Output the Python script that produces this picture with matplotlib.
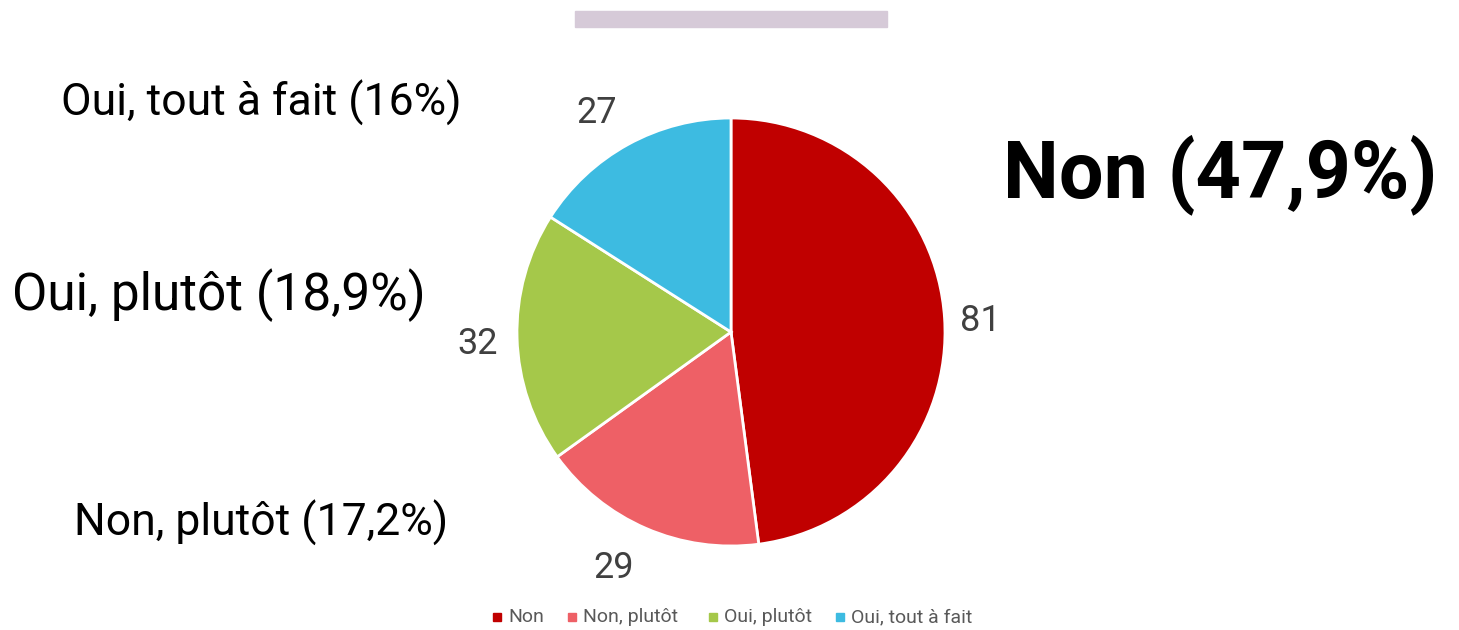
import matplotlib.pyplot as plt
from matplotlib.patches import Rectangle

# data
categories = ["Non", "Non, plutôt", "Oui, plutôt", "Oui, tout à fait"]
counts = [81, 29, 32, 27]
colors = ["#C00000", "#EE6066", "#A5C84A", "#3DBBE1"]

total = sum(counts)
pcts = [c / total * 100 for c in counts]


def fmt_pct(p):
    s = f"{p:.1f}".replace(".", ",")
    if s.endswith(",0"):
        s = s[:-2]
    return s + "%"


plt.rcParams['font.family'] = ['Roboto', 'DejaVu Sans']

W, H = 1459, 630
fig = plt.figure(figsize=(W / 100, H / 100), dpi=100)


def px(x, y):
    # pixel coords (top-left origin) -> figure fraction
    return x / W, 1 - y / H


# pie axes: center (731, 332), radius 214 px
cx, cy, r = 731, 332, 214
ax = fig.add_axes([(cx - r) / W, (H - cy - r) / H, 2 * r / W, 2 * r / H])
wedges, _ = ax.pie(counts, colors=colors, startangle=90, counterclock=False,
                   wedgeprops=dict(edgecolor="white", linewidth=2))
ax.set_xlim(-1, 1)
ax.set_ylim(-1, 1)
ax.set_aspect("equal")

# decorative bar at top
fig.patches.append(Rectangle(px(575, 27), (887 - 575) / W, 16 / H,
                             transform=fig.transFigure, color="#D6CAD8", zorder=0))

# value labels
value_pos = [(980, 321), (614, 568), (478, 344), (597, 113)]
for (x, y), v in zip(value_pos, counts):
    fig.text(*px(x, y), str(v), fontsize=26, color="#404040",
             ha="center", va="center")

# category labels
fig.text(*px(1220, 175), f"{categories[0]} ({fmt_pct(pcts[0])})", fontsize=57,
         fontweight="bold", color="black", ha="center", va="center")
fig.text(*px(261, 523), f"{categories[1]} ({fmt_pct(pcts[1])})", fontsize=32,
         color="black", ha="center", va="center")
fig.text(*px(219, 295), f"{categories[2]} ({fmt_pct(pcts[2])})", fontsize=37,
         color="black", ha="center", va="center")
fig.text(*px(261, 103), f"{categories[3]} ({fmt_pct(pcts[3])})", fontsize=32,
         color="black", ha="center", va="center")

# legend
leg_x = [497, 572, 713, 840]
for x, name, col in zip(leg_x, categories, colors):
    fig.patches.append(Rectangle(px(x - 4, 621), 8 / W, 8 / H,
                                 transform=fig.transFigure, color=col))
    fig.text(*px(x + 11, 617), name, fontsize=14, color="#595959",
             ha="left", va="center")

fig.savefig("out.png", dpi=100)
